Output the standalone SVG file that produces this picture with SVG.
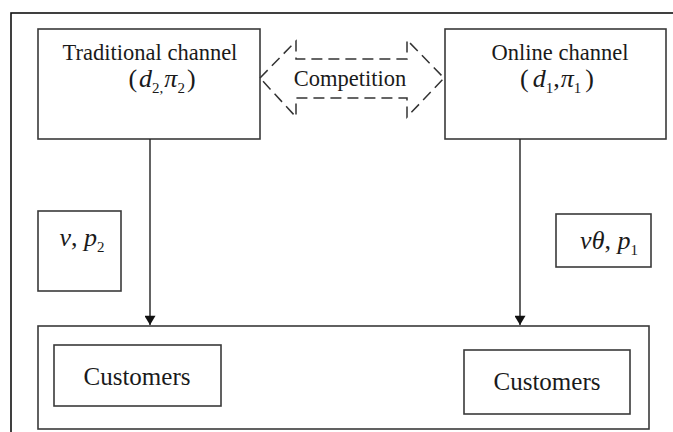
<svg xmlns="http://www.w3.org/2000/svg" width="673" height="432" viewBox="0 0 673 432">
  <style>
    .frame { fill: none; stroke: #111; stroke-width: 1.6; }
    .box { fill: #fff; stroke: #3a3a3a; stroke-width: 1.6; }
    .label { font-family: "Liberation Serif", "Times New Roman", serif; fill: #1a1a1a; text-anchor: middle; }
    .head { font-size: 22.5px; }
    .cust { font-size: 25px; }
    .math { font-size: 26px; }
    .it { font-style: italic; }
    .sub { font-size: 15px; }
    .edge { stroke: #222; stroke-width: 1.4; fill: none; }
    .comp { fill: none; stroke: #333; stroke-width: 1.5; stroke-dasharray: 11 6; }
  </style>
  <defs>
    <marker id="arrow" viewBox="0 0 10 12" refX="10" refY="6" markerWidth="12" markerHeight="11" orient="auto" markerUnits="userSpaceOnUse">
      <path d="M0,0 L10,6 L0,12 z" fill="#111"/>
    </marker>
  </defs>
  <rect width="673" height="432" fill="#fff"/>

  <!-- outer frame, runs past the right and bottom edges -->
  <rect class="frame" x="11" y="13" width="700" height="450"/>

  <g id="traditional">
    <rect class="box" x="38" y="29" width="222" height="110"/>
    <text class="label head" x="150" y="60">Traditional channel</text>
    <text class="label math" x="162" y="87">(<tspan class="it" dx="2">d</tspan><tspan class="sub" dy="6">2,</tspan><tspan class="it" dx="1" dy="-6">π</tspan><tspan class="sub" dy="6">2</tspan><tspan dx="2" dy="-6">)</tspan></text>
  </g>

  <g id="online">
    <rect class="box" x="445" y="29" width="221" height="110"/>
    <text class="label head" x="560" y="60">Online channel</text>
    <text class="label math" x="557" y="87">(<tspan class="it" dx="4">d</tspan><tspan class="sub" dy="6">1</tspan><tspan dy="-6">,</tspan><tspan class="it" dx="1">π</tspan><tspan class="sub" dy="6">1</tspan><tspan dx="4" dy="-6">)</tspan></text>
  </g>

  <g id="competition">
    <path class="comp" d="M260,78 L296,41 L296,59 L407,59 L407,40 L444,78 L407,117 L407,98 L296,98 L296,117 Z"/>
    <text class="label head" x="350" y="86">Competition</text>
  </g>

  <g id="offline-terms">
    <rect class="box" x="38" y="211" width="83" height="80"/>
    <text class="label math" x="82" y="246"><tspan class="it">v</tspan>, <tspan class="it">p</tspan><tspan class="sub" dy="6">2</tspan></text>
  </g>

  <g id="online-terms">
    <rect class="box" x="556" y="214" width="95" height="53"/>
    <text class="label math" x="609" y="249"><tspan class="it">vθ</tspan>, <tspan class="it">p</tspan><tspan class="sub" dy="6">1</tspan></text>
  </g>

  <g id="market">
    <rect class="box" x="38" y="326" width="611" height="103"/>
  </g>

  <g id="customers-traditional">
    <rect class="box" x="54" y="345" width="167" height="61"/>
    <text class="label cust" x="137" y="385">Customers</text>
  </g>

  <g id="customers-online">
    <rect class="box" x="464" y="350" width="166" height="64"/>
    <text class="label cust" x="547" y="390">Customers</text>
  </g>

  <g id="connectors">
    <line class="edge" x1="150" y1="139" x2="150" y2="325" marker-end="url(#arrow)"/>
    <line class="edge" x1="520" y1="139" x2="520" y2="325" marker-end="url(#arrow)"/>
  </g>
</svg>
